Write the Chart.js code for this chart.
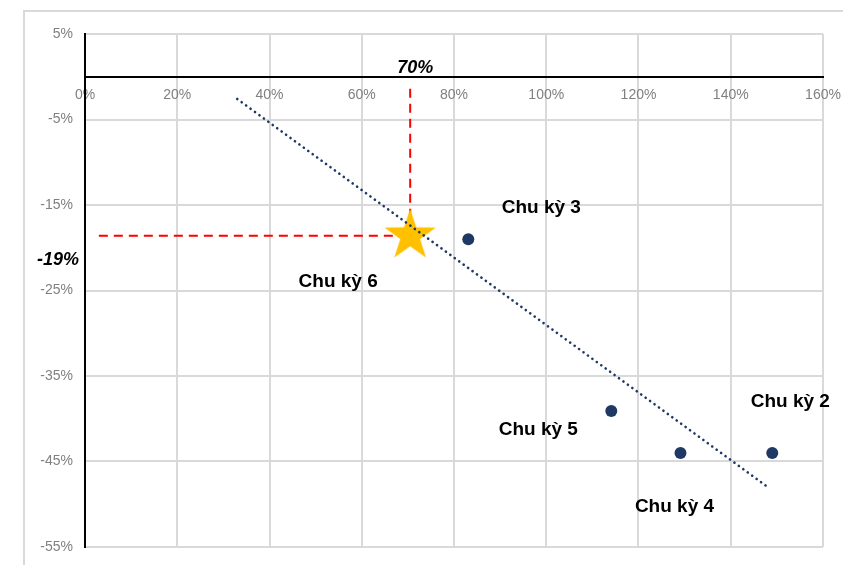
<!DOCTYPE html>
<html>
<head>
<meta charset="utf-8">
<script src="https://cdn.jsdelivr.net/npm/chart.js@4.4.1/dist/chart.umd.min.js"></script>
<style>
  body { margin: 0; background: #fff; }
  #wrap { position: relative; width: 843px; height: 565px; overflow: hidden; }
  #frame { position: absolute; left: 23px; top: 10px; width: 900px; height: 600px;
           border-left: 2px solid #d9d9d9; border-top: 2px solid #d9d9d9; }
  #chart { position: absolute; left: 0; top: 0; }
</style>
</head>
<body>
<div id="wrap">
  <div id="frame"></div>
  <canvas id="chart" width="843" height="565"></canvas>
</div>
<script>
// data
var cycleNames = ["Chu kỳ 3", "Chu kỳ 5", "Chu kỳ 4", "Chu kỳ 2"]
var cycleX = [0.831, 1.141, 1.291, 1.490]
var cycleY = [-0.190, -0.391, -0.440, -0.440]

var currentName = "Chu kỳ 6"
var currentX = [0.705]
var currentY = [-0.186]

var trendX = [0.33, 1.483]
var trendY = [-0.026, -0.481]

var xTicks = [0, 0.2, 0.4, 0.6, 0.8, 1.0, 1.2, 1.4, 1.6]
var yTicks = [0.05, -0.05, -0.15, -0.25, -0.35, -0.45, -0.55]

var guideXLabel = "70%"
var guideYLabel = "-19%"

// label offsets (pixels, to the text baseline) from each point
var labelOffsets = {
    "Chu kỳ 3": [73, -26],
    "Chu kỳ 5": [-73, 24],
    "Chu kỳ 4": [-6, 59],
    "Chu kỳ 2": [18, -46],
    "Chu kỳ 6": [-72, 51]
}

function pts(xs, ys){
    var out = []
    for (var i = 0; i < xs.length; i++) out.push({x: xs[i], y: ys[i]})
    return out
}

// filled gold star for the current cycle
function makeStar(){
    var c = document.createElement('canvas')
    c.width = 60; c.height = 60
    var g = c.getContext('2d')
    var R = 27, r = 10.4, cx = 30, cy = 30
    g.beginPath()
    for (var i = 0; i < 10; i++){
        var a = -Math.PI/2 + i*Math.PI/5
        var rad = (i % 2 == 0) ? R : r
        g.lineTo(cx + rad*Math.cos(a), cy + rad*Math.sin(a))
    }
    g.closePath()
    g.fillStyle = '#FFC000'
    g.fill()
    return c
}

var labelPlugin = {
    id: 'labels',
    afterDatasetsDraw: function(chart){
        var ctx = chart.ctx
        var xs = chart.scales.x, ys = chart.scales.y
        ctx.save()
        ctx.fillStyle = '#000'
        ctx.textAlign = 'center'
        ctx.textBaseline = 'alphabetic'
        ctx.font = 'bold 19px "Liberation Sans", Arial, sans-serif'
        var all = cycleNames.concat([currentName])
        var ax = cycleX.concat(currentX), ay = cycleY.concat(currentY)
        for (var i = 0; i < all.length; i++){
            var off = labelOffsets[all[i]]
            ctx.fillText(all[i], xs.getPixelForValue(ax[i]) + off[0], ys.getPixelForValue(ay[i]) + off[1])
        }
        // guide values
        ctx.font = 'italic bold 18px "Liberation Sans", Arial, sans-serif'
        ctx.fillText(guideXLabel, xs.getPixelForValue(currentX[0]) + 5, ys.getPixelForValue(0) - 4)
        ctx.fillText(guideYLabel, xs.getPixelForValue(0) - 27, ys.getPixelForValue(currentY[0]) + 29)
        ctx.restore()
    }
}

var ctx = document.getElementById('chart').getContext('2d')
var chart = new Chart(ctx, {
    type: 'scatter',
    data: {
        datasets: [
            {
                label: 'trend',
                data: pts(trendX, trendY),
                showLine: true,
                borderColor: '#1F3864',
                borderWidth: 2.6,
                borderDash: [0.1, 5.4],
                borderCapStyle: 'round',
                pointRadius: 0,
                order: 0
            },
            {
                // image point style is drawn at its own size, radius only needs to be > 0
                label: 'current',
                data: pts(currentX, currentY),
                pointStyle: makeStar(),
                pointRadius: 1,
                pointHoverRadius: 1,
                order: 1
            },
            {
                label: 'cycles',
                data: pts(cycleX, cycleY),
                pointStyle: 'circle',
                pointRadius: 6,
                backgroundColor: '#1F3864',
                borderColor: '#1F3864',
                borderWidth: 0,
                order: 1
            },
            {
                label: 'vguide',
                data: pts([currentX[0], currentX[0]], [-0.014, currentY[0]]),
                showLine: true,
                borderColor: '#FF0000',
                borderWidth: 2,
                borderDash: [9, 6],
                pointRadius: 0,
                order: 2
            },
            {
                label: 'hguide',
                data: pts([0.03, currentX[0]], [currentY[0], currentY[0]]),
                showLine: true,
                borderColor: '#FF0000',
                borderWidth: 2,
                borderDash: [9, 6],
                pointRadius: 0,
                order: 2
            }
        ]
    },
    options: {
        responsive: false,
        animation: false,
        layout: { padding: { left: 0, right: 20, top: 34, bottom: 18 } },
        plugins: { legend: { display: false }, tooltip: { enabled: false } },
        scales: {
            x: {
                type: 'linear',
                position: { y: 0 },
                min: 0, max: 1.6,
                afterBuildTicks: function(s){ s.ticks = xTicks.map(function(v){ return {value: v} }) },
                afterFit: function(s){
                    // axis sits on the zero line, so it should not eat layout space
                    s.height = 0
                    s.paddingLeft = 0; s.paddingRight = 0
                },
                grid: { color: '#d9d9d9', lineWidth: 2, drawTicks: false },
                border: { display: true, color: '#000', width: 2 },
                ticks: {
                    padding: 10,
                    color: '#808080',
                    font: { family: '"Liberation Sans", Arial, sans-serif', size: 14 },
                    callback: function(v){ return Math.round(v*100) + '%' }
                }
            },
            y: {
                type: 'linear',
                min: -0.55, max: 0.05,
                afterBuildTicks: function(s){ s.ticks = yTicks.map(function(v){ return {value: v} }) },
                afterFit: function(s){
                    s.width = 85
                    s.paddingTop = 0; s.paddingBottom = 0
                },
                grid: { color: '#d9d9d9', lineWidth: 2, drawTicks: false },
                border: { display: true, color: '#000', width: 2 },
                ticks: {
                    padding: 12,
                    color: '#808080',
                    font: { family: '"Liberation Sans", Arial, sans-serif', size: 14 },
                    callback: function(v){ return Math.round(v*100) + '%' }
                }
            }
        }
    },
    plugins: [labelPlugin]
})
</script>
</body>
</html>
